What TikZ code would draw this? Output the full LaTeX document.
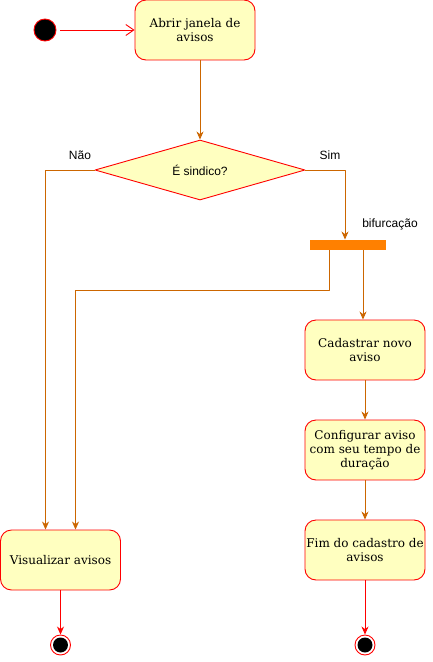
\documentclass[tikz,border=0pt]{standalone}
\usepackage{fontspec}
\setmainfont{DejaVu Serif}
\newfontfamily\rotulo{Liberation Sans}
\usetikzlibrary{arrows.meta,shapes.geometric}
\definecolor{amarelo}{HTML}{FFFFC0}
\definecolor{laranja}{HTML}{CC6600}
\definecolor{barracor}{HTML}{FF8000}
\begin{document}
\begin{tikzpicture}[x=1pt, y=-1pt, line width=0.9pt, line join=round, font=\fontsize{12}{14}\selectfont,
	acao/.style={draw=red, fill=amarelo, rounded corners=11pt, minimum width=120pt, minimum height=60pt, align=center, inner sep=1pt},
	decisao/.style={diamond, draw=red, fill=amarelo, minimum width=210pt, minimum height=60pt, inner sep=0pt, aspect=3.5, font=\rotulo\fontsize{12}{14}\selectfont},
	inicio/.style={circle, draw=red, fill=black, minimum size=22pt, inner sep=0pt},
	final/.style={circle, draw=red, fill=white, minimum size=20pt, inner sep=0pt,
		path picture={\fill[black] (path picture bounding box.center) circle (7.5pt);}},
	rot/.style={font=\rotulo\fontsize{12}{14}\selectfont},
	fluxo/.style={draw=laranja, -{Stealth[length=8pt, width=7pt, inset=2.5pt]}},
	fluxov/.style={draw=red, -{Stealth[length=8pt, width=7pt, inset=2.5pt]}}]
	\useasboundingbox (0,0) rectangle (432,662);
	% nos
	\node[inicio] (ini) at (45,30) {};
	\node[acao] (abrir) at (195,30) {Abrir janela de\\avisos};
	\node[decisao] (sindico) at (200,170) {É sindico?};
	\node[rot] (nao) at (80,155) {Não};
	\node[rot] (sim) at (330,155) {Sim};
	\node[fill=barracor, minimum width=76pt, minimum height=10pt, inner sep=0pt] (barra) at (347.5,245) {};
	\node[rot] (bif) at (390,224) {bifurcação};
	\node[acao] (cad) at (365,350) {Cadastrar novo\\aviso};
	\node[acao] (conf) at (365,450) {Configurar aviso\\com seu tempo de\\duração};
	\node[acao] (fimcad) at (365,550) {Fim do cadastro de\\avisos};
	\node[acao] (ver) at (60.5,560) {Visualizar avisos};
	\node[final] (fimD) at (365,645) {};
	\node[final] (fimE) at (60.5,645) {};
	% arestas
	\draw[draw=red, shorten <=4pt, -{Straight Barb[length=8pt, width=11pt]}] (ini) -- (abrir);
	\draw[fluxo] (sindico.north |- abrir.south) -- (sindico.north);
	\draw[fluxo] (sindico.west) -| ([xshift=-15pt]ver.north);
	\draw[fluxo] (sindico.east) -| ([xshift=-2.5pt]barra.north);
	\draw[fluxo] ([xshift=-18.5pt]barra.south) -- ++(0,40) -| ([xshift=15pt]ver.north);
	\draw[fluxo] ([xshift=15.5pt]barra.south) -- ([xshift=15.5pt]barra.south |- cad.north);
	\draw[fluxo] (cad) -- (conf);
	\draw[fluxo] (conf) -- (fimcad);
	\draw[fluxov] (fimcad) -- (fimD);
	\draw[fluxov] (ver) -- (fimE);
\end{tikzpicture}
\end{document}
